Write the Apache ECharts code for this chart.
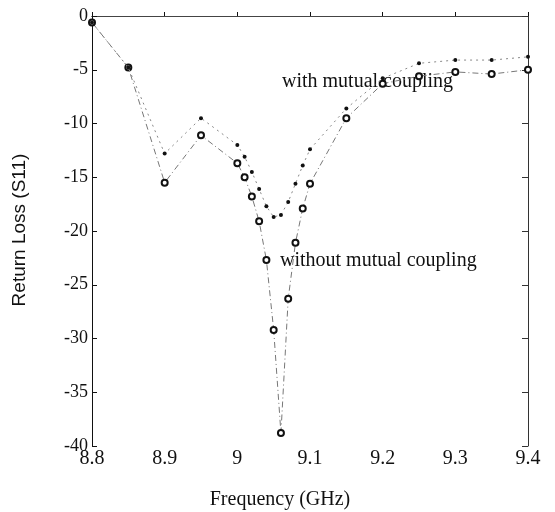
<!DOCTYPE html>
<html>
<head>
  <meta charset="utf-8" />
  <title>Return Loss</title>
  <style>
    html, body { margin: 0; padding: 0; background: #fff; }
    #chart { width: 555px; height: 512px; }
  </style>
</head>
<body>
  <div id="chart"></div>
  <script src="https://cdn.jsdelivr.net/npm/echarts@6.0.0/dist/echarts.min.js"></script>
  <script>
    // frequency samples (GHz)
    var freq = [8.8, 8.85, 8.9, 8.95, 9.0, 9.01, 9.02, 9.03, 9.04, 9.05, 9.06,
                9.07, 9.08, 9.09, 9.1, 9.15, 9.2, 9.25, 9.3, 9.35, 9.4];
    // filled dots
    var withCoupling = [-0.6, -4.8, -12.8, -9.5, -12.0, -13.1, -14.5, -16.1, -17.7, -18.7, -18.5,
                        -17.3, -15.6, -13.9, -12.4, -8.6, -5.8, -4.4, -4.1, -4.1, -3.8];
    // open circles
    var withoutCoupling = [-0.6, -4.8, -15.5, -11.1, -13.7, -15.0, -16.8, -19.1, -22.7, -29.2, -38.8,
                           -26.3, -21.1, -17.9, -15.6, -9.5, -6.3, -5.6, -5.2, -5.4, -5.0];
    var xTicks = [8.8, 8.9, 9.0, 9.1, 9.2, 9.3, 9.4];
    var yTicks = [0, -5, -10, -15, -20, -25, -30, -35, -40];

    var serif = 'Liberation Serif';
    var ink = '#111';

    function pairs(xs, ys) {
      var out = [];
      for (var i = 0; i < xs.length; i++) out.push([xs[i], ys[i]]);
      return out;
    }

    function fmtX(v) {
      var r = Math.round(v * 10) / 10;
      return xTicks.indexOf(r) >= 0 ? String(r) : '';
    }

    var chart = echarts.init(document.getElementById('chart'));
    var option = {
      animation: false,
      grid: { left: 92, right: 27, top: 16, bottom: 66 },
      xAxis: [{
        type: 'value', min: 8.8, max: 9.4, interval: 0.1,
        axisLine: { lineStyle: { color: ink, width: 1 } },
        axisTick: { inside: true, length: 4, lineStyle: { color: ink } },
        splitLine: { show: false },
        axisLabel: { color: ink, fontFamily: serif, fontSize: 20, margin: 3, formatter: fmtX }
      }, {
        type: 'value', position: 'top', min: 8.8, max: 9.4, interval: 0.1,
        axisLine: { lineStyle: { color: '#444', width: 1 } },
        axisTick: { show: false }, axisLabel: { show: false }, splitLine: { show: false }
      }],
      yAxis: [{
        type: 'value', min: -40, max: 0, interval: 5,
        axisLine: { lineStyle: { color: ink, width: 1 } },
        axisTick: { inside: true, length: 5, lineStyle: { color: ink } },
        splitLine: { show: false },
        axisLabel: {
          color: ink, fontFamily: serif, fontSize: 18, margin: 4,
          formatter: function (v) { return yTicks.indexOf(v) >= 0 ? String(v) : ''; }
        }
      }, {
        type: 'value', position: 'right', min: -40, max: 0, interval: 5,
        axisLine: { lineStyle: { color: '#333', width: 1 } },
        axisTick: { inside: true, length: 6, lineStyle: { color: '#333' } },
        axisLabel: { show: false }, splitLine: { show: false }
      }],
      series: [{
        name: 'without mutual coupling',
        type: 'line',
        data: pairs(freq, withoutCoupling),
        symbol: 'emptyCircle', symbolSize: 6,
        clip: false,
        itemStyle: { color: '#111', borderWidth: 1.6 },
        lineStyle: { color: '#777', width: 1, type: [6, 3, 1, 3] },
        z: 3
      }, {
        name: 'with mutual coupling',
        type: 'line',
        data: pairs(freq, withCoupling),
        symbol: 'circle', symbolSize: 4,
        clip: false,
        itemStyle: { color: '#111' },
        lineStyle: { color: '#888', width: 1, type: [2, 4] },
        z: 4
      }],
      graphic: [{
        type: 'text', left: 282, top: 72,
        style: { text: 'with mutual coupling', font: '20px "Liberation Serif"', fill: ink }
      }, {
        type: 'text', left: 280, top: 251,
        style: { text: 'without mutual coupling', font: '20px "Liberation Serif"', fill: ink }
      }, {
        type: 'text', x: 280, y: 500,
        style: { text: 'Frequency (GHz)', font: '20px "Liberation Serif"', fill: ink,
                 align: 'center', verticalAlign: 'middle' }
      }, {
        type: 'text', x: 20, y: 230, rotation: Math.PI / 2,
        style: { text: 'Return Loss (S11)', font: '19px "Liberation Sans"', fill: ink,
                 align: 'center', verticalAlign: 'middle' }
      }]
    };
    chart.setOption(option);
  </script>
</body>
</html>
